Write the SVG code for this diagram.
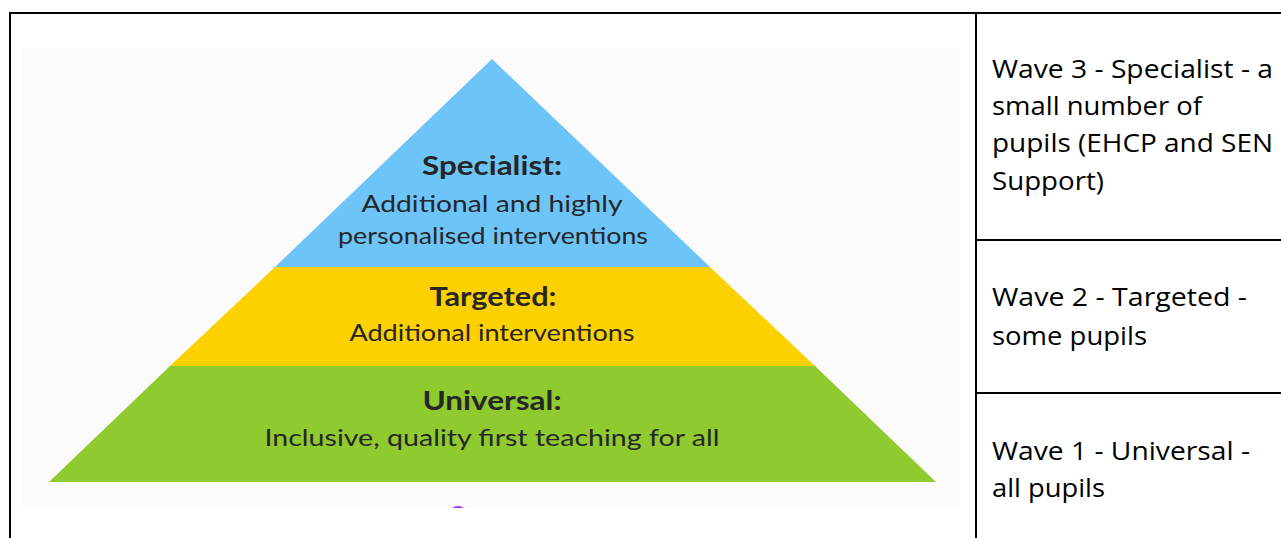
<svg xmlns="http://www.w3.org/2000/svg" width="1281" height="538" viewBox="0 0 1281 538">
  <style>
    .title { font-family: "Lato", "Open Sans", sans-serif; font-weight: bold; font-size: 26px; fill: #262626; text-anchor: middle; }
    .body { font-family: "Lato", "Open Sans", sans-serif; font-size: 23px; fill: #262626; text-anchor: middle; }
    .cell { font-family: "Open Sans", "Liberation Sans", sans-serif; font-size: 26px; fill: #000; }
    .grid { stroke: #000; stroke-width: 2; fill: none; }
  </style>
  <defs>
    <clipPath id="imgClip"><rect x="23" y="48" width="937" height="460"/></clipPath>
  </defs>
  <rect width="1281" height="538" fill="#ffffff"/>

  <g id="table">
    <line class="grid" x1="10" y1="13" x2="1281" y2="13"/>
    <line class="grid" x1="10" y1="12" x2="10" y2="538"/>
    <line class="grid" x1="976" y1="12" x2="976" y2="538"/>
    <line class="grid" x1="976" y1="240" x2="1281" y2="240"/>
    <line class="grid" x1="976" y1="393" x2="1281" y2="393"/>
  </g>

  <g id="picture">
    <rect x="23" y="48" width="937" height="460" fill="#fbfbfb"/>
    <ellipse cx="458" cy="511" rx="7" ry="5" fill="#a040f0" clip-path="url(#imgClip)"/>
  </g>

  <g id="specialist">
    <polygon points="492,59 710,267 275,267" fill="#6cc4f8"/>
    <text class="title" x="492" y="175" textLength="140" lengthAdjust="spacingAndGlyphs">Specialist:</text>
    <text class="body" x="492" y="212" textLength="261" lengthAdjust="spacingAndGlyphs">Additional and highly</text>
    <text class="body" x="493" y="244" textLength="310" lengthAdjust="spacingAndGlyphs">personalised interventions</text>
  </g>

  <g id="targeted">
    <polygon points="275,267 710,267 815,366 170,366" fill="#fdd000"/>
    <text class="title" x="493" y="306" textLength="127" lengthAdjust="spacingAndGlyphs">Targeted:</text>
    <text class="body" x="492" y="341" textLength="285" lengthAdjust="spacingAndGlyphs">Additional interventions</text>
  </g>

  <g id="universal">
    <polygon points="170,366 815,366 936,482 49,482" fill="#8fca2f"/>
    <text class="title" x="492" y="410" textLength="139" lengthAdjust="spacingAndGlyphs">Universal:</text>
    <text class="body" x="492" y="446" textLength="455" lengthAdjust="spacingAndGlyphs">Inclusive, quality first teaching for all</text>
  </g>

  <g id="wave3">
    <text class="cell" x="992" y="78" textLength="281" lengthAdjust="spacingAndGlyphs">Wave 3 - Specialist - a</text>
    <text class="cell" x="992" y="115" textLength="210" lengthAdjust="spacingAndGlyphs">small number of</text>
    <text class="cell" x="992" y="152" textLength="281" lengthAdjust="spacingAndGlyphs">pupils (EHCP and SEN</text>
    <text class="cell" x="992" y="190" textLength="112" lengthAdjust="spacingAndGlyphs">Support)</text>
  </g>

  <g id="wave2">
    <text class="cell" x="992" y="306" textLength="255" lengthAdjust="spacingAndGlyphs">Wave 2 - Targeted -</text>
    <text class="cell" x="992" y="345" textLength="155" lengthAdjust="spacingAndGlyphs">some pupils</text>
  </g>

  <g id="wave1">
    <text class="cell" x="992" y="460" textLength="258" lengthAdjust="spacingAndGlyphs">Wave 1 - Universal -</text>
    <text class="cell" x="992" y="497" textLength="113" lengthAdjust="spacingAndGlyphs">all pupils</text>
  </g>
</svg>
